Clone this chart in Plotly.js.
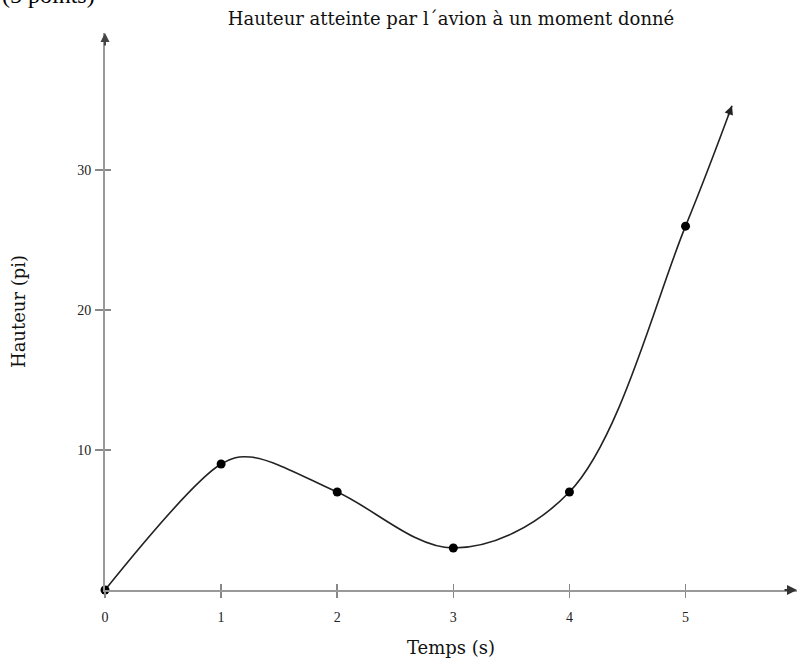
<!DOCTYPE html>
<html>
<head>
<meta charset="utf-8">
<script src="https://cdn.plot.ly/plotly-2.35.2.min.js"></script>
<style>html,body{margin:0;padding:0;background:#fff;}#chart{width:799px;height:664px;}</style>
</head>
<body>
<div id="chart"></div>
<script>
// Data
const pointTimes = [0, 1, 2, 3, 4, 5];
const pointHeights = [0, 9, 7, 3, 7, 26];
const curveTimes = [0, 1, 1.25, 2, 3, 4, 5, 5.4];
const curveHeights = [0, 9, 9.5, 7, 3, 7, 26, 34.6];
const xTickVals = [0, 1, 2, 3, 4, 5];
const yTickVals = [10, 20, 30];
const titleText = "Hauteur atteinte par l´avion à un moment donné";
const xTitle = "Temps (s)";
const yTitle = "Hauteur (pi)";
const cornerText = "(5 points)";

const serif = "DejaVu Serif, Liberation Serif, serif";
const timesLike = "Liberation Serif, Times New Roman, serif";
const xRange = [0, 5.96];
const yRange = [0, 39.8];
const n = curveTimes.length;

// plot area size in px (for arrow direction at the curve end)
const plotW = 799 - 105 - 2, plotH = 664 - 33 - 74;
const dxPx = (curveTimes[n-1] - curveTimes[n-2]) / (xRange[1] - xRange[0]) * plotW;
const dyPx = (curveHeights[n-1] - curveHeights[n-2]) / (yRange[1] - yRange[0]) * plotH;
const len = Math.hypot(dxPx, dyPx);
const tailLen = 12;

const traces = [
  {x: curveTimes, y: curveHeights, mode: 'lines', line: {shape: 'spline', smoothing: 1.0, color: '#222', width: 1.6}, hoverinfo: 'skip', showlegend: false},
  {x: pointTimes, y: pointHeights, mode: 'markers', marker: {color: '#000', size: 9}, showlegend: false, cliponaxis: false},
  {x: [null], y: [null], xaxis: 'x2', yaxis: 'y2', showlegend: false}
];

const tickFont = {family: timesLike, size: 14, color: '#222'};
const titleFont = {family: serif, size: 18, color: '#111'};

const layout = {
  width: 799, height: 664,
  margin: {l: 105, r: 2, t: 33, b: 74},
  paper_bgcolor: '#fff', plot_bgcolor: '#fff',
  font: {family: serif, color: '#222', size: 13},
  title: {text: titleText, font: titleFont, x: 0.5, xref: 'paper', y: 1 - 19/664, yref: 'container', yanchor: 'middle'},
  xaxis: {range: xRange, showgrid: false, zeroline: false, showline: true, linecolor: '#999', linewidth: 2,
    tickmode: 'array', tickvals: xTickVals, ticks: 'outside', ticklen: 6, tickcolor: '#888', tickwidth: 1.5,
    tickfont: tickFont, ticklabelstandoff: 7,
    title: {text: xTitle, font: titleFont, standoff: 18}},
  yaxis: {range: yRange, showgrid: false, zeroline: false, showline: true, linecolor: '#999', linewidth: 2,
    tickmode: 'array', tickvals: yTickVals, ticks: 'outside', ticklen: 8, tickcolor: '#888', tickwidth: 1.5,
    tickfont: tickFont, ticklabelstandoff: 1,
    title: {text: yTitle, font: titleFont, standoff: 47}},
  xaxis2: {range: xRange, overlaying: 'x', anchor: 'y', side: 'bottom', showgrid: false, zeroline: false, showline: false,
    tickmode: 'array', tickvals: xTickVals, ticks: 'inside', ticklen: 6, tickcolor: '#888', tickwidth: 1.5, showticklabels: false},
  yaxis2: {range: yRange, overlaying: 'y', anchor: 'x', side: 'left', showgrid: false, zeroline: false, showline: false,
    tickmode: 'array', tickvals: yTickVals, ticks: 'inside', ticklen: 6, tickcolor: '#888', tickwidth: 1.5, showticklabels: false},
  annotations: [
    {x: curveTimes[n-1], y: curveHeights[n-1], ax: -dxPx / len * tailLen, ay: dyPx / len * tailLen, xref: 'x', yref: 'y',
     showarrow: true, arrowhead: 2, arrowsize: 1.1, arrowwidth: 1.6, arrowcolor: '#222', text: '', standoff: 0},
    {x: xRange[1], y: 0, ax: -14, ay: 0, xref: 'x', yref: 'y',
     showarrow: true, arrowhead: 2, arrowsize: 1, arrowwidth: 2, arrowcolor: '#333', text: ''},
    {x: 0, y: yRange[1], ax: 0, ay: 14, xref: 'x', yref: 'y',
     showarrow: true, arrowhead: 2, arrowsize: 0.9, arrowwidth: 2, arrowcolor: '#444', text: ''},
    {x: -0.152, y: 1.068, xref: 'paper', yref: 'paper', xanchor: 'left', yanchor: 'middle', showarrow: false,
     text: cornerText, font: {family: timesLike, size: 24, color: '#000'}}
  ]
};

Plotly.newPlot('chart', traces, layout, {staticPlot: true});
</script>
</body>
</html>
